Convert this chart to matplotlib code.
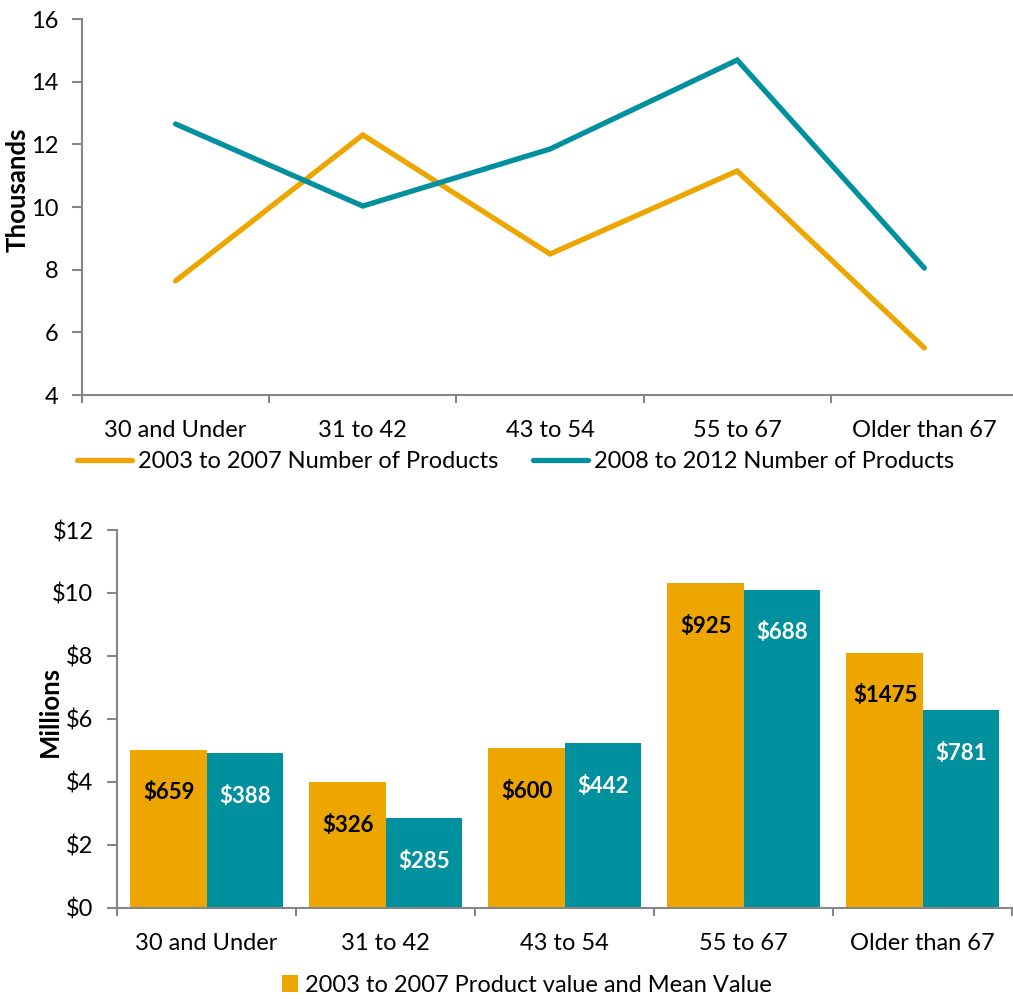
import matplotlib
matplotlib.use("Agg")
import matplotlib.pyplot as plt
import numpy as np

plt.rcParams['font.family'] = ['Lato', 'DejaVu Sans']

# ---- data ----
age_groups = ["30 and Under", "31 to 42", "43 to 54", "55 to 67", "Older than 67"]

products_2003_2007 = [7.64, 12.30, 8.50, 11.15, 5.50]      # thousands
products_2008_2012 = [12.65, 10.03, 11.85, 14.69, 8.05]    # thousands

value_2003_2007 = [5.02, 3.99, 5.07, 10.31, 8.10]          # $ millions
value_2008_2012 = [4.90, 2.83, 5.23, 10.10, 6.27]          # $ millions

mean_2003_2007 = [659, 326, 600, 925, 1475]
mean_2008_2012 = [388, 285, 442, 688, 781]

line_labels = ["2003 to 2007 Number of Products", "2008 to 2012 Number of Products"]
bar_label_2003 = "2003 to 2007 Product value and Mean Value"

ORANGE = "#EDA600"
TEAL = "#00909E"
GRAY = "#868686"
FS = 17

W, H = 1013, 999
fig = plt.figure(figsize=(W / 100, H / 100), dpi=100)


def px_axes(left, right, top, bottom):
    return fig.add_axes([left / W, 1 - bottom / H, (right - left) / W, (bottom - top) / H])


def style_axes(ax):
    for s in ("top", "right"):
        ax.spines[s].set_visible(False)
    for s in ("left", "bottom"):
        ax.spines[s].set_color(GRAY)
        ax.spines[s].set_linewidth(1.5)
    x = np.arange(len(age_groups))
    ax.set_xlim(-0.5, len(age_groups) - 0.5)
    ax.set_xticks(x)
    ax.set_xticklabels(age_groups, fontsize=FS)
    ax.set_xticks(np.arange(len(age_groups) + 1) - 0.5, minor=True)
    ax.tick_params(axis="x", which="major", length=0, pad=18)
    ax.tick_params(axis="x", which="minor", length=6, width=1.5, color=GRAY, direction="out")
    ax.tick_params(axis="y", length=7, width=1.5, color=GRAY, labelsize=FS, pad=10)


# ---- top: number of products (line chart) ----
ax1 = px_axes(82, 1018, 19, 395)
style_axes(ax1)
x = np.arange(len(age_groups))
l1, = ax1.plot(x, products_2003_2007, color=ORANGE, lw=3.8, solid_capstyle="round",
               solid_joinstyle="miter")
l2, = ax1.plot(x, products_2008_2012, color=TEAL, lw=3.8, solid_capstyle="round",
               solid_joinstyle="miter")
ax1.set_ylim(4, 16)
ax1.set_yticks(np.arange(4, 17, 2))
ax1.set_ylabel("Thousands", fontsize=18.5, fontweight="bold", va="center")
ax1.yaxis.set_label_coords(-0.069, 0.545)
fig.legend([l1, l2], line_labels, loc="center", bbox_to_anchor=(0.509, 1 - 462 / H),
           ncol=2, frameon=False, fontsize=FS, handlelength=2.3, handletextpad=0.25,
           columnspacing=1.5, borderaxespad=0)

# ---- bottom: product value (bar chart) ----
ax2 = px_axes(117, 1012, 530, 907.5)
style_axes(ax2)
bw = 0.43
b1 = ax2.bar(x - bw / 2, value_2003_2007, width=bw, color=ORANGE, label=bar_label_2003)
b2 = ax2.bar(x + bw / 2, value_2008_2012, width=bw, color=TEAL)
ax2.set_ylim(0, 12)
ax2.set_yticks(np.arange(0, 13, 2))
ax2.set_yticklabels([f"${v}" for v in range(0, 13, 2)])
ax2.set_ylabel("Millions", fontsize=18.5, fontweight="bold", va="center")
ax2.yaxis.set_label_coords(-0.075, 0.52)

for xi, v, m in zip(x - bw / 2, value_2003_2007, mean_2003_2007):
    ax2.annotate(f"${m}", (xi, v), xytext=(1, -31), textcoords="offset points",
                 ha="center", va="center", fontsize=16, fontweight="bold", color="black")
for xi, v, m in zip(x + bw / 2, value_2008_2012, mean_2008_2012):
    ax2.annotate(f"${m}", (xi, v), xytext=(0, -31), textcoords="offset points",
                 ha="center", va="center", fontsize=16, fontweight="bold", color="white")

fig.legend(handles=[b1], loc="center", bbox_to_anchor=(0.52, 1 - 985 / H), frameon=False,
           fontsize=FS, handlelength=0.7, handleheight=0.7, handletextpad=0.3,
           borderaxespad=0)

fig.savefig("out.png", dpi=100)
